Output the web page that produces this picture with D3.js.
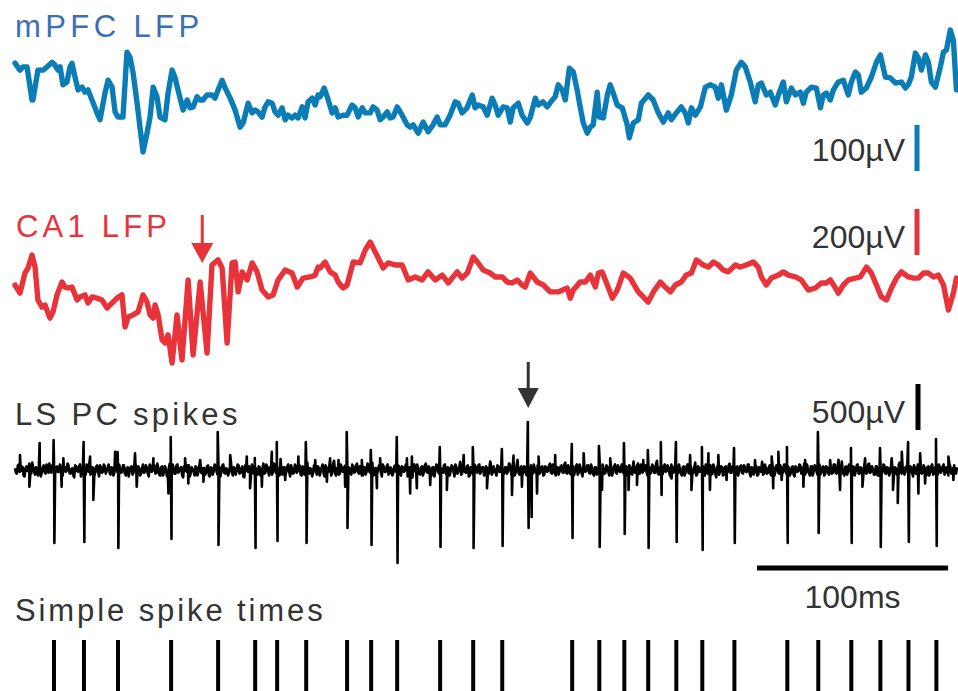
<!DOCTYPE html>
<html><head><meta charset="utf-8">
<script src="https://cdn.jsdelivr.net/npm/d3@7"></script>
<style>
html,body{margin:0;padding:0;background:#fff;}
svg{display:block;}
text{font-family:"Liberation Sans",Arial,sans-serif;}
</style></head>
<body>
<svg id="chart" width="958" height="691"></svg>
<script>
// ---------- DATA (time in ms, voltage in µV) ----------
const mpfcT = [0,2.6,4.2,6.3,8.9,9.4,12.0,14.7,16.8,19.4,20.9,22.5,23.6,25.1,27.2,28.8,29.8,31.4,33.0,35.1,36.6,38.2,40.3,42.9,44.5,47.1,48.7,50.8,52.4,53.9,56.5,58.6,60.2,61.8,63.9,65.4,67.0,69.1,70.7,72.3,74.3,75.9,78.5,80.1,82.2,83.8,85.3,88.0,90.1,91.6,93.2,95.3,96.9,98.4,100.5,103.1,104.7,106.3,108.4,110.0,112.6,115.2,117.8,119.4,122.0,124.1,125.7,127.2,129.3,130.9,132.5,134.6,136.1,137.7,139.8,141.4,142.9,145.0,146.6,148.2,150.3,151.8,153.4,155.5,157.1,158.6,159.7,161.8,163.4,166.0,167.6,169.1,171.7,173.8,176.4,178.0,179.6,181.7,183.3,185.9,187.4,189.5,191.1,192.7,194.8,196.3,197.9,200.0,202.6,205.2,206.8,208.4,211.0,213.6,216.2,218.8,220.9,222.5,225.1,227.7,230.4,231.9,234.0,236.6,239.3,240.8,242.4,245.0,247.1,249.7,251.3,252.9,255.5,257.6,259.2,260.7,263.4,265.4,268.1,269.6,272.3,273.8,276.4,278.5,281.2,282.7,284.3,286.4,288.0,290.1,292.2,294.2,295.8,297.4,299.5,301.1,302.6,304.7,305.8,307.9,310.0,311.5,313.1,315.2,317.8,320.4,321.5,323.6,326.2,327.8,331.4,334.0,336.7,339.3,341.9,343.5,346.1,348.7,350.8,352.4,354.0,356.1,358.7,361.3,363.9,366.5,368.1,369.7,372.3,374.9,377.5,380.1,382.2,384.8,387.4,389.0,390.6,393.2,395.3,397.9,399.5,402.1,403.7,406.3,408.4,411.0,412.6,414.1,416.8,419.4,421.5,423.0,424.6,426.7,428.3,430.9,433.5,436.1,437.7,439.8,441.4,442.9,445.5,448.2,450.8,452.9,455.5,458.1,460.7,463.9,466.0,467.5,469.1,471.2,472.8,474.4,476.5,478.0,479.6,481.7,484.3,485.9,487.5,489.5,491.1,492.7];
const mpfcV = [80,65,72,72,0,0,65,65,72,82,76,65,72,33,39,72,80,50,22,28,17,22,0,-28,-43,15,43,28,-26,-37,-37,104,93,59,-7,-59,-113,-72,-37,28,7,-37,-43,15,65,48,22,-22,0,-17,-15,7,0,0,11,11,4,22,43,26,4,-22,-59,-50,-7,-28,-22,-26,-37,-15,-4,-7,-26,-33,-17,-43,-33,-39,-33,-39,-15,-39,-4,4,-11,11,7,26,7,-28,-17,-37,-33,-33,-11,-17,-37,-17,-28,-28,-15,-22,-43,-37,-26,-39,-37,-15,-33,-54,-59,-54,-72,-48,-69,-54,-37,-54,-54,-33,-4,-7,-28,-17,11,-17,-11,-15,-33,4,-11,-33,-15,-17,-48,-17,-7,-33,-50,-39,4,-11,-4,-15,0,7,33,22,0,69,61,22,-15,-50,-72,-59,-54,17,-37,-39,11,33,15,-11,-17,-54,-82,-50,-43,-7,11,0,-28,-48,-28,-43,-28,-15,-28,-50,-17,-33,-15,28,33,28,4,33,-22,11,65,82,72,39,-4,33,37,11,17,-11,11,39,-4,26,11,17,-7,17,28,26,-17,11,15,0,22,39,43,11,39,61,54,17,26,50,82,98,50,48,37,39,26,33,50,102,91,65,98,82,39,28,72,104,109,152,130,22];

const ca1T = [0,2.6,5.2,6.8,8.9,10.5,12.0,14.1,15.7,18.3,19.9,22.0,24.6,26.2,27.7,29.8,32.5,34.0,36.6,38.2,40.3,42.9,45.5,48.2,50.8,53.4,56.0,57.6,59.2,61.8,64.4,67.0,69.1,70.7,72.3,73.3,74.9,77.0,78.5,80.1,82.2,84.8,87.4,90.6,93.2,96.9,100.5,103.1,106.3,108.4,111.0,113.6,115.2,116.8,118.9,121.5,124.1,126.7,129.3,132.5,135.1,137.7,141.4,145.0,147.7,150.8,154.5,157.1,158.6,159.7,162.3,164.9,167.6,169.1,171.7,173.8,177.0,180.6,183.3,185.9,188.5,192.7,195.3,199.0,202.6,205.8,209.4,213.1,216.2,219.9,223.6,226.7,231.4,234.0,236.7,239.8,242.4,245.0,248.7,251.3,255.0,257.6,260.2,262.8,265.4,267.0,269.7,273.3,276.5,280.1,284.3,289.0,290.6,292.2,295.8,298.5,301.1,303.7,305.3,307.3,310.0,312.6,315.2,318.3,322.0,326.2,328.8,331.4,334.1,337.7,340.3,343.0,345.6,348.7,351.3,354.0,356.6,360.2,362.9,365.5,368.1,370.7,373.3,377.0,379.6,382.7,386.4,389.0,390.6,393.2,395.8,399.5,402.1,404.7,408.4,411.5,415.2,418.9,422.0,424.6,426.7,429.4,430.9,433.5,436.2,439.8,442.4,445.6,448.2,450.8,453.4,456.1,458.7,461.3,463.9,467.6,470.2,472.8,475.4,478.0,480.7,483.3,485.9,488.5,491.1,492.7];
const ca1V = [0,-35,52,74,130,78,-65,-96,-87,-144,-117,-43,13,-9,-13,-9,-65,-52,-43,-78,-52,-57,-65,-100,-78,-57,-43,-183,-139,-130,-117,-43,-74,-130,-144,-87,-130,-239,-252,-217,-339,-130,-326,22,-304,13,-296,87,109,74,-252,96,100,-30,57,22,96,57,-22,-52,-43,22,65,52,-9,30,35,43,78,74,100,57,43,13,-13,0,100,96,152,187,144,74,96,87,87,22,35,22,57,22,43,9,57,30,52,122,96,65,52,35,35,13,9,22,0,-9,52,13,0,-30,-30,-13,-57,-22,13,13,43,-9,52,57,0,-57,-22,52,30,-30,-52,-74,-30,13,-9,-30,0,13,43,52,109,87,78,100,87,65,57,87,78,87,100,78,35,0,30,43,57,43,35,22,-22,-13,9,9,22,-13,-35,0,22,30,35,78,52,0,-52,-65,-13,30,57,35,30,30,52,52,35,43,0,-109,-35,30];

// LS PC background activity: one value per ms (µV) ...
const lsNoise = [
20,-40,60,-10,30,-70,40,10,-50,80,-20,30,-60,20,-30,50,-40,10,70,-30,20,-50,40,-20,30,
-60,30,-10,50,-40,20,-80,40,-20,60,-30,10,-50,30,90,-40,20,-30,50,-70,30,-20,40,-10,60,
-50,20,-30,70,-40,10,-20,50,-60,30,-10,40,-30,80,-50,20,-40,60,-20,30,-70,40,-10,50,-30,
20,-60,40,-20,10,-50,70,-30,20,-40,60,-10,30,-80,40,-20,50,-30,10,-60,30,-20,80,-40,20,
-30,50,-70,20,-10,40,-50,30,-20,60,-40,10,-30,90,-60,20,-10,50,-30,40,-80,30,-20,10,60,
-40,20,-50,30,-10,70,-30,40,-60,20,-20,50,-40,10,120,-50,30,-20,60,-70,20,-30,40,-10,50,
-60,30,-20,80,-40,10,-30,50,-50,20,-10,60,-70,30,-20,40,-30,100,-60,20,-40,30,-10,50,-30,
20,-50,40,-20,70,-40,10,-60,30,-20,50,-30,80,-50,20,-10,40,-70,30,-20,60,-40,10,-30,50,
-20,40,-60,30,-10,50,-40,20,-80,60,-30,10,-50,40,-20,70,-30,20,-60,30,-10,50,-40,20,-30,
60,-50,20,-10,40,-70,30,-20,90,-40,10,-30,50,-60,20,-20,40,-30,60,-10,30,-50,20,-40,70,
-30,10,-60,40,-20,50,-40,30,-10,60,-70,20,-30,110,-50,40,-20,30,-60,10,50,-40,20,-30,60,
-20,40,-50,30,-10,70,-40,20,-60,30,-20,50,-30,80,-40,10,-50,40,-20,60,-30,20,-70,30,-10,
50,-40,20,-60,30,-20,90,-50,10,-30,40,-60,20,-10,60,-40,30,-20,50,-70,40,-10,30,-50,20,
-30,70,-40,20,-10,50,-60,30,-20,40,-30,100,-50,20,-40,60,-10,30,-70,40,-20,50,-30,10,-60,
40,-20,60,-40,10,-30,80,-50,20,-10,40,-60,30,-20,50,-40,20,-80,60,-10,30,-50,40,-20,70,
-30,20,-60,40,-10,50,-40,30,-20,60,-70,20,-30,40,-50,10,90,-40,20,-30,50,-60,30,-10,40,
-40,30,-20,60,-50,20,-30,40,-70,20,-10,50,-40,70,-30,10,-60,40,-10,30,-50,60,-20,40,-40,
30,-50,20,-30,60,-40,110,-20,30,-60,40,-20,50,-70,30,-10,60,-40,20,-50,40,-30,70,-20,10,
-50,40,-60,30,-20,50,-40,20,-30,70,-50,20,-10,80,-40,30,-20,60,-40,30,-70,20,-10,40,50,
-30,30,-60,40,-20,60,-40,30,-50,30,-10,60,-30,20,70,-40,20,-30,30];
// ... and the values half a ms later (µV)
const lsNoiseHalf = [
-30,50,-20,40,-60,20,-10,70,-40,30,-50,10,40,-70,30,-20,60,-30,-10,50,-40,30,-20,60,-50,
40,-20,70,-30,10,-60,50,-10,40,-70,20,-40,60,-20,-50,30,-60,40,-20,50,-30,60,-40,20,-30,
30,-60,40,-20,60,-30,50,-40,20,-70,30,-50,60,-10,40,-60,20,-30,50,-40,60,-20,30,-40,70,
-50,30,-60,40,-70,20,-30,60,-40,50,-30,20,-60,40,-10,50,-70,30,-20,40,-60,50,-30,20,-50,
40,-60,30,-50,60,-20,40,-70,50,-30,20,-60,40,-20,30,-50,60,-40,20,-70,50,-10,40,-60,-30,
50,-30,40,-60,20,-40,60,-20,30,-50,70,-30,20,-60,-40,30,-60,40,-20,50,-40,60,-30,20,-50,
40,-50,60,-30,20,-70,50,-20,40,-60,30,-40,50,-10,40,-60,70,-30,20,-50,60,-20,40,-60,30,
-40,60,-30,50,-20,40,-60,30,-50,70,-20,40,-60,20,-40,50,-30,60,-20,40,-50,30,-60,40,-20,
50,-30,40,-20,60,-70,30,-50,40,-10,60,-40,30,-60,50,-20,40,-50,30,-70,60,-20,40,-30,50,
-40,30,-60,50,-20,60,-40,30,-50,60,-20,40,-70,30,-40,60,-20,50,-40,30,-60,40,-20,60,-50,
40,-30,50,-20,60,-50,30,-40,70,-20,40,-60,50,-30,20,-60,40,-50,30,-40,-20,60,-30,50,-40,
30,-60,40,-20,50,-30,60,-40,30,-50,40,-20,60,-30,50,-40,30,-60,40,-50,60,-30,40,-20,50,
-30,60,-40,30,-50,40,-30,60,-40,50,-20,30,-60,40,-30,50,-20,60,-40,30,-60,50,-40,60,-30,
50,-40,60,-30,40,-20,50,-40,60,-30,70,-40,30,-60,40,-20,50,-40,60,-30,40,-50,60,-40,30,
-60,40,-30,50,-40,30,-60,40,-20,50,-30,60,-40,30,-50,60,-40,30,-50,40,-60,30,-40,50,-30,
40,-50,30,-60,40,-30,50,-20,60,-40,30,-50,40,-60,30,-20,-50,60,-40,30,-50,40,-60,50,-30,
50,-40,60,-30,40,-60,30,-50,40,-20,60,-40,30,-50,60,-30,40,-60,50,-20,40,-50,30,-60,40,
-30,50,-40,60,-30,40,-60,50,-40,30,-50,60,-30,40,-60,50,-40,30,-60,50,-40,60,-30,40,-50,
40,-60,30,-50,60,-40,30,-60,50,-40,30,-50,60,-30,40,-50,30,-60,40,-30,50,-40,60,-30,-40,
50,-40,30,-60,40,-50,30,-40,60,-30,40,-50,30,-60,40,-30,50,-40];

// small unit deflections riding on the background (time ms, µV)
const blipT = [2.6,25.3,39.3,52.4,62.8,72.4,89.0,96.9,112.6,121.3,134.4,148.3,157.1,164.9,169.3,181.5,191.1,205.1,207.7,234.8,248.7,260.9,274.0,282.7,297.6,311.5,323.7,328.8,353.3,362.9,368.1,387.3,396.0,399.5,413.5,426.6,432.7,444.9,458.8,464.1,473.7,488.5,
  7.5,24.4,63.7,80.3,90.7,98.6,123.0,129.2,141.4,163.2,172.8,189.4,206.8,210.3,217.3,226.0,247.0,260.1,265.3,273.2,307.2,321.1,325.5,343.6,354.0,363.7,372.4,396.8,401.2,412.6,431.8,443.5,459.5,472.8,476.3,491.1];
const blipV = [163,127,145,199,181,127,127,109,163,145,199,145,109,127,109,109,127,127,145,163,91,156,145,163,181,127,91,109,163,181,163,109,145,199,109,109,91,127,127,199,181,145,
  -181,-181,-181,-254,-145,-127,-199,-181,-109,-127,-181,-199,-254,-199,-163,-217,-199,-272,-181,-254,-217,-217,-163,-91,-217,-217,-109,-199,-109,-181,-217,-181,-217,-254,-145,-109];

// simple spikes (time ms, positive peak µV, negative trough µV)
const simpleSpikeT = [20.4,36.1,53.9,81.7,106.3,125.7,137.2,152.4,173.8,186.4,200.0,222.5,239.8,255.0,291.6,305.8,318.9,331.4,346.1,359.7,376.5,404.2,420.4,437.7,452.9,467.6,482.2];
const spikeUp   = [326,304,196,359,413,130,304,304,413,217,359,250,250,228,283,261,293,217,304,250,239,250,413,239,239,304,337];
const spikeDown = [-793,-783,-848,-750,-815,-848,-772,-793,-630,-815,-1011,-837,-848,-826,-739,-837,-696,-848,-783,-870,-793,-793,-685,-793,-837,-783,-826];
// other deflections (complex spike and small units)
const otherT    = [13.1,40.8,268.6,270.2,338.2,461.8];
const otherUp   = [293,0,522,0,304,0];
const otherDown = [0,-326,-630,-511,-272,-359];

const thetaArrowT = 98;      // red arrow time (ms)
const complexArrowT = 268.6; // black arrow time (ms)

const labels = ["mPFC LFP","CA1 LFP","LS PC spikes","Simple spike times"];
const scaleLabels = ["100µV","200µV","500µV","100ms"];
const scaleValues = [100,200,500,100];

// ---------- DRAWING ----------
const svg = d3.select("#chart");
const x = d3.scaleLinear().domain([0,493]).range([15,957]);
const yM = d3.scaleLinear().domain([-100,100]).range([146,54]);
const yC = d3.scaleLinear().domain([-200,200]).range([331,239]);
const yS = d3.scaleLinear().domain([-500,500]).range([516,424]);

const BLUE = "#0b7db6", BLUE_TXT = "#3b6fb5", RED = "#e8333b", DARK = "#333333";

function pairs(t,v){ const n=Math.min(t.length,v.length); const a=[]; for(let i=0;i<n;i++) a.push([t[i],v[i]]); return a; }

svg.append("path").datum(pairs(mpfcT,mpfcV))
  .attr("d", d3.line().x(d=>x(d[0])).y(d=>yM(d[1])))
  .attr("fill","none").attr("stroke",BLUE).attr("stroke-width",5.4)
  .attr("stroke-linejoin","round").attr("stroke-linecap","round");

svg.append("path").datum(pairs(ca1T,ca1V))
  .attr("d", d3.line().x(d=>x(d[0])).y(d=>yC(d[1])))
  .attr("fill","none").attr("stroke",RED).attr("stroke-width",5.4)
  .attr("stroke-linejoin","round").attr("stroke-linecap","round");

// spike trace
const lsPts = lsNoise.map((v,i)=>[i,v]);
lsNoiseHalf.forEach((v,i)=>{ if(i+0.5<=493) lsPts.push([i+0.5,v]); });
pairs(blipT,blipV).forEach(p=>lsPts.push([p[0]+0.01,p[1]]));
simpleSpikeT.forEach((t,i)=>{ lsPts.push([t-0.2,spikeUp[i]]); lsPts.push([t+0.2,spikeDown[i]]); });
otherT.forEach((t,i)=>{
  if(otherUp[i]) lsPts.push([t-0.2,otherUp[i]]);
  if(otherDown[i]) lsPts.push([t+0.2,otherDown[i]]);
});
lsPts.sort((a,b)=>a[0]-b[0]);
svg.append("path").datum(lsPts)
  .attr("d", d3.line().x(d=>x(d[0])).y(d=>yS(d[1])))
  .attr("fill","none").attr("stroke","#000").attr("stroke-width",2.6)
  .attr("stroke-linejoin","round");

// simple spike raster
svg.append("g").selectAll("rect").data(simpleSpikeT).join("rect")
  .attr("x",d=>x(d)-2).attr("y",640).attr("width",4).attr("height",51).attr("fill","#000");

// labels
const labPos = [[15,37,BLUE_TXT,4.4],[16,237,RED,4.2],[15,425,DARK,3.3],[15,621,DARK,2.9]];
labels.forEach((s,i)=>{
  svg.append("text").attr("x",labPos[i][0]).attr("y",labPos[i][1]).text(s)
    .attr("font-size",31).attr("letter-spacing",labPos[i][3]).attr("fill",labPos[i][2]);
});

// vertical scale bars
const bars = [[yM,125,BLUE,917,161],[yC,209,RED,917,248],[yS,384,"#000",918,423]];
bars.forEach((b,i)=>{
  const [ys,top,col,bx,ty] = b;
  const h = ys(0)-ys(scaleValues[i]);
  svg.append("rect").attr("x",bx-2.5).attr("y",top).attr("width",5).attr("height",h).attr("fill",col);
  svg.append("text").attr("x",905).attr("y",ty).attr("text-anchor","end")
    .attr("font-size",32).attr("fill",DARK).text(scaleLabels[i]);
});

// time scale bar
const tb0 = 757, tbLen = x(scaleValues[3]) - x(0);
svg.append("rect").attr("x",tb0).attr("y",565.5).attr("width",tbLen).attr("height",5).attr("fill","#000");
svg.append("text").attr("x",tb0+tbLen/2).attr("y",608).attr("text-anchor","middle")
  .attr("font-size",32).attr("fill",DARK).text(scaleLabels[3]);

// arrows
function arrow(cx, y0, y1, headH, headW, col){
  svg.append("line").attr("x1",cx).attr("x2",cx).attr("y1",y0).attr("y2",y1-headH+1)
    .attr("stroke",col).attr("stroke-width",3);
  svg.append("path").attr("d",`M${cx-headW/2},${y1-headH}L${cx+headW/2},${y1-headH}L${cx},${y1}Z`).attr("fill",col);
}
arrow(x(thetaArrowT), 215, 263, 20, 22, RED);
arrow(x(complexArrowT), 362, 408, 20, 21, DARK);
</script>
</body></html>
